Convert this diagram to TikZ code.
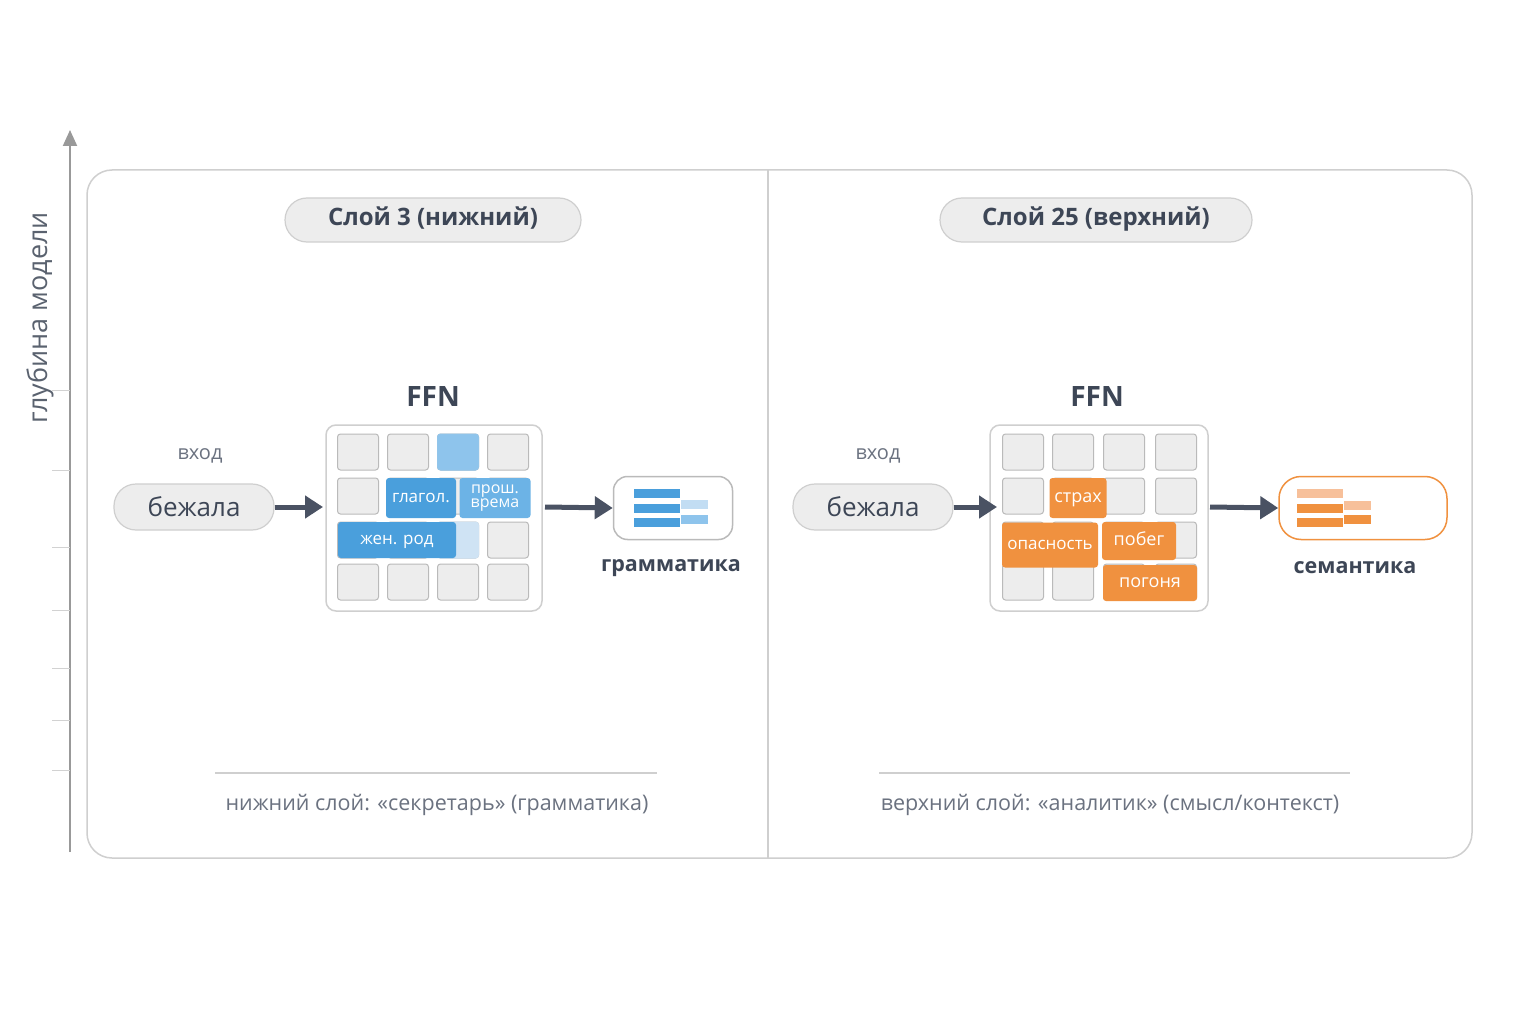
\documentclass[tikz,border=0pt]{standalone}
\usepackage{fontspec}
\setmainfont{Open Sans}
\usetikzlibrary{arrows.meta,calc}
\definecolor{ink}{HTML}{3D4656}
\definecolor{gtxt}{HTML}{6B7280}
\definecolor{bord}{HTML}{CFCFCF}
\definecolor{cellf}{HTML}{EDEDED}
\definecolor{blueA}{HTML}{4A9FDC}
\definecolor{blueB}{HTML}{6CB3E6}
\definecolor{blueC}{HTML}{8EC4EC}
\definecolor{blueL}{HTML}{CFE3F4}
\definecolor{orA}{HTML}{F0913F}
\definecolor{orL}{HTML}{F7C09A}
\definecolor{arr}{HTML}{4A5263}
\tikzset{
 pill/.style={draw=bord,fill=cellf,rounded corners=22pt,line width=1.2pt,text=ink,inner sep=0pt},
 cell/.style={draw=bord!90!black,fill=cellf,rounded corners=3pt,line width=1pt,minimum width=41pt,minimum height=36pt,inner sep=0pt},
 hl/.style={rounded corners=3pt,text=white,inner sep=0pt,text height=11pt,text depth=2pt,font=\fontsize{17}{18}\selectfont},
 flow/.style={draw=arr,line width=5pt,-{Triangle[length=18pt,width=22pt]}},
 lbl/.style={font=\bfseries\fontsize{28}{32}\selectfont,text=ink},
}
\begin{document}
\begin{tikzpicture}[x=1pt,y=-1pt]
\useasboundingbox (0,0) rectangle (1536,1024);
\fill[white] (0,0) rectangle (1536,1024);
% axis
\draw[gray!80,line width=2pt,-{Triangle[length=16pt,width=14pt]}] (70,852) -- (70,130);
\foreach \yy in {390,470,547,610,668,720,770} \draw[gray!35,line width=1pt] (52,\yy) -- (70,\yy);
\node[rotate=90,text=ink!85,font=\fontsize{27}{30}\selectfont] (ax) at (40,318) {глубина модели};
% panel
\draw[bord,line width=1.5pt,rounded corners=25pt] (87,170) rectangle (1472,858);
\draw[bord,line width=1.5pt] (768,170) -- (768,858);
% titles
\node[pill,minimum width=296pt,minimum height=44pt,text height=17pt,text depth=5pt,font=\bfseries\fontsize{24}{28}\selectfont] (t1) at (433,220) {Слой 3 (нижний)};
\node[pill,minimum width=312pt,minimum height=44pt,text height=17pt,text depth=5pt,font=\bfseries\fontsize{24}{28}\selectfont] (t2) at (1096,220) {Слой 25 (верхний)};
\node[lbl] (f1) at (433,397) {FFN};
\node[lbl] (f2) at (1097,397) {FFN};
% grids
\draw[bord,fill=white,line width=1.5pt,rounded corners=10pt] (326,425) rectangle (542,611);
\draw[bord,fill=white,line width=1.5pt,rounded corners=10pt] (990,425) rectangle (1208,611);
\foreach \r/\yy in {0/452,1/496,2/540,3/582}{
 \foreach \c/\xx in {0/358,1/408,2/458,3/508} \node[cell] (L\r\c) at (\xx,\yy) {};
 \foreach \c/\xx in {0/1023,1/1073,2/1124,3/1176} \node[cell] (R\r\c) at (\xx,\yy) {};
}
\node[cell,fill=blueC,draw=blueA!60] (Lh1) at (458,452) {};
\node[cell,fill=blueL,draw=blueL] (Lh2) at (458,540) {};
\node[hl,fill=blueA,minimum width=70pt,minimum height=40pt] (gl) at (421,498) {глагол.};
\node[rounded corners=3pt,text=white,inner sep=0pt,fill=blueB,minimum width=71pt,minimum height=40pt,align=center,font=\fontsize{16}{14}\selectfont] (pr) at (495,498) {прош.\\врема};
\node[hl,fill=blueA,minimum width=118pt,minimum height=36pt] (zh) at (397,540) {жен. род};
\node[hl,fill=orA,minimum width=57pt,minimum height=40pt,font=\fontsize{18}{20}\selectfont] (st) at (1078,498) {страх};
\node[hl,fill=orA,minimum width=96pt,minimum height=45pt] (op) at (1050,545) {опасность};
\node[hl,fill=orA,minimum width=74pt,minimum height=38pt,font=\fontsize{18}{20}\selectfont] (pb) at (1139,541) {побег};
\node[hl,fill=orA,minimum width=94pt,minimum height=36pt,font=\fontsize{18}{20}\selectfont] (pg) at (1150,583) {погоня};
% inputs
\node[text=gtxt,font=\fontsize{20}{22}\selectfont] (v1) at (200,456) {вход};
\node[text=gtxt,font=\fontsize{20}{22}\selectfont] (v2) at (878,456) {вход};
\node[pill,minimum width=160pt,minimum height=46pt,font=\fontsize{26}{28}\selectfont] (b1) at (194,507) {бежала};
\node[pill,minimum width=160pt,minimum height=46pt,font=\fontsize{26}{28}\selectfont] (b2) at (873,507) {бежала};
% outputs
\node[draw=bord!90!black,line width=1.5pt,rounded corners=14pt,minimum width=119pt,minimum height=63pt,fill=white] (o1) at (673,508) {};
\node[draw=orA,line width=1.5pt,rounded corners=22pt,minimum width=168pt,minimum height=63pt,fill=white] (o2) at (1363,508) {};
\foreach \yy in {493,508,522} \fill[blueA] (634,\yy-4.5) rectangle (680,\yy+4.5);
\fill[blueL!80!blueC] (681,500) rectangle (708,509);
\fill[blueC] (681,515) rectangle (708,524);
\fill[orL] (1297,489) rectangle (1343,498);
\foreach \yy in {508,522} \fill[orA] (1297,\yy-4.5) rectangle (1343,\yy+4.5);
\fill[orL] (1344,501) rectangle (1371,510);
\fill[orA] (1344,515) rectangle (1371,524);
\node[lbl,font=\bfseries\fontsize{21.5}{26}\selectfont] (g1) at (671,568) {грамматика};
\node[lbl,font=\bfseries\fontsize{21.5}{26}\selectfont] (g2) at (1355,568) {семантика};
% arrows
\coordinate (gl1) at (326,507); \coordinate (gr1) at (545,507);
\coordinate (gl2) at (990,507); \coordinate (gr2) at (1210,507);
\draw[flow] (b1.east) -- ($(gl1)+(-3,0)$);
\draw[flow] (gr1) -- (o1.west);
\draw[flow] (b2.east) -- ($(gl2)+(7,0)$);
\draw[flow] (gr2) -- (o2.west);
% bottom
\draw[bord,line width=1.2pt] (215,773) -- (657,773);
\draw[bord,line width=1.2pt] (879,773) -- (1350,773);
\node[text=gtxt,font=\fontsize{21.5}{24}\selectfont] (n1) at (437,805) {нижний слой: «секретарь» (грамматика)};
\node[text=gtxt,font=\fontsize{21.5}{24}\selectfont] (n2) at (1110,805) {верхний слой: «аналитик» (смысл/контекст)};
\end{tikzpicture}
\end{document}
